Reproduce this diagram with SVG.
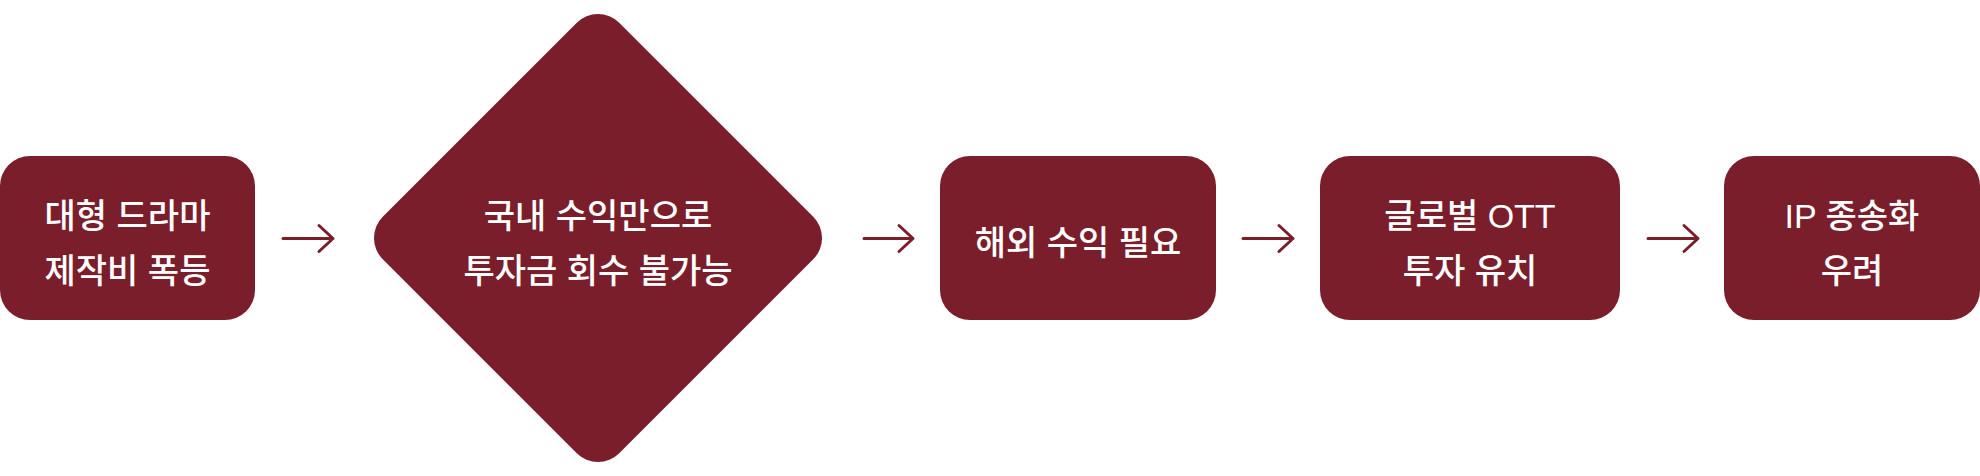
<svg xmlns="http://www.w3.org/2000/svg" width="1980" height="476" viewBox="0 0 1980 476">
<style>
.n{fill:#7b1e2b;}
.t{fill:#ffffff;font-family:"Liberation Sans","Noto Sans CJK KR",sans-serif;font-size:34px;font-weight:500;text-anchor:middle;}
.e{fill:none;stroke:#7b1e2b;stroke-width:3;stroke-linecap:round;stroke-linejoin:round;}
</style>
<rect width="1980" height="476" fill="#ffffff"/>
<g id="connectors">
<path class="e" d="M283 238.5H333M319 225.5L333 238.5L319 251.5"/>
<path class="e" d="M864 238.5H913M899 225.5L913 238.5L899 251.5"/>
<path class="e" d="M1243 238.5H1293M1279 225.5L1293 238.5L1279 251.5"/>
<path class="e" d="M1648 238.5H1698M1684 225.5L1698 238.5L1684 251.5"/>
</g>
<g id="node1">
<rect class="n" x="0" y="156" width="255" height="164" rx="30"/>
<text class="t" x="127.5" y="228">대형 드라마</text>
<text class="t" x="127.5" y="283">제작비 폭등</text>
</g>
<g id="node2">
<rect class="n" x="430.8" y="70.8" width="334.4" height="334.4" rx="30" transform="rotate(45 598 238)"/>
<text class="t" x="598" y="228">국내 수익만으로</text>
<text class="t" x="598" y="283">투자금 회수 불가능</text>
</g>
<g id="node3">
<rect class="n" x="940" y="156" width="276" height="164" rx="30"/>
<text class="t" x="1078" y="255">해외 수익 필요</text>
</g>
<g id="node4">
<rect class="n" x="1320" y="156" width="300" height="164" rx="30"/>
<text class="t" x="1470" y="228">글로벌 OTT</text>
<text class="t" x="1470" y="283">투자 유치</text>
</g>
<g id="node5">
<rect class="n" x="1724" y="156" width="256" height="164" rx="30"/>
<text class="t" x="1852" y="228">IP 종송화</text>
<text class="t" x="1852" y="283">우려</text>
</g>
</svg>
